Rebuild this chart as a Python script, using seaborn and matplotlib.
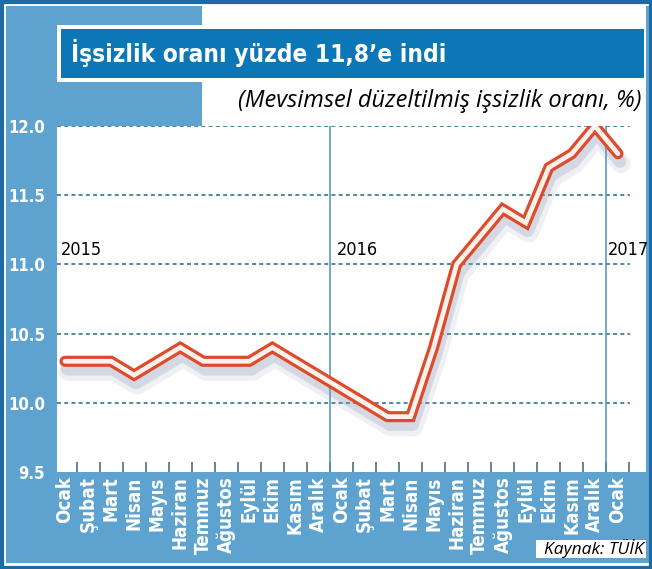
import matplotlib
matplotlib.use("Agg")
import matplotlib.pyplot as plt
import matplotlib.transforms as mtransforms
from matplotlib import font_manager as fm
from matplotlib.patches import Rectangle
import pandas as pd
import seaborn as sns

months = ["Ocak", "Şubat", "Mart", "Nisan", "Mayıs", "Haziran", "Temmuz",
          "Ağustos", "Eylül", "Ekim", "Kasım", "Aralık",
          "Ocak", "Şubat", "Mart", "Nisan", "Mayıs", "Haziran", "Temmuz",
          "Ağustos", "Eylül", "Ekim", "Kasım", "Aralık", "Ocak"]
rate = [10.3, 10.3, 10.3, 10.2, 10.3, 10.4, 10.3, 10.3, 10.3, 10.4, 10.3, 10.2,
        10.1, 10.0, 9.9, 9.9, 10.4, 11.0, 11.2, 11.4, 11.3, 11.7, 11.8, 12.0, 11.8]
years = ["2015", "2016", "2017"]
year_pos = [-0.2, 11.8, 23.55]
y_ticks = [9.5, 10.0, 10.5, 11.0, 11.5, 12.0]

LIGHT = "#5ea3cf"
DARK = "#1d6aa4"
TITLE_BG = "#0b77b6"
GRID = "#3b8299"
RED = "#de4b2c"
W, H = 652, 569


def weight_of(f):
    w = f.weight
    if isinstance(w, str):
        return 700 if "bold" in w.lower() else 400
    return w


def find_font(bold=False, narrow=True, italic=False):
    names_narrow = ["Liberation Sans Narrow", "DejaVu Sans Condensed", "Roboto Condensed",
                    "Open Sans Condensed", "Noto Sans Condensed"]
    names_plain = ["Open Sans", "Noto Sans", "Lato", "Liberation Sans", "DejaVu Sans"]
    cands = []
    for f in fm.fontManager.ttflist:
        is_bold = weight_of(f) >= 600
        is_it = f.style in ("italic", "oblique")
        if is_bold != bold or is_it != italic:
            continue
        cond = ("Narrow" in f.name or "Condensed" in f.name or
                f.stretch in ("condensed", "semi-condensed", "extra-condensed"))
        if narrow and cond:
            rank = next((i for i, n in enumerate(names_narrow) if f.name.startswith(n.split()[0])), 9)
            cands.append((rank, f.fname))
        elif not narrow and not cond and f.name in names_plain:
            cands.append((names_plain.index(f.name), f.fname))
    if cands:
        cands.sort()
        return cands[0][1]
    return None


def fprop(size, **kw):
    path = find_font(**kw)
    if path:
        return fm.FontProperties(fname=path, size=size)
    return fm.FontProperties(family="DejaVu Sans", size=size,
                             weight="bold" if kw.get("bold") else "normal",
                             style="italic" if kw.get("italic") else "normal")


sns.set_style("white")

df = pd.DataFrame({"idx": range(len(rate)), "rate": rate})

fig = plt.figure(figsize=(W / 100, H / 100), dpi=100, facecolor="white")


def frect(x0, y0, x1, y1, **kw):
    # pixel box (top-left origin) -> figure rectangle, kept under the axes
    fig.patches.append(Rectangle((x0 / W, 1 - y1 / H), (x1 - x0) / W, (y1 - y0) / H,
                                 transform=fig.transFigure, figure=fig, zorder=-5, **kw))


# background pieces
frect(6, 6, 202, 126, color=LIGHT, lw=0)
frect(6, 6, 57, 563, color=LIGHT, lw=0)
frect(6, 472, 649, 563, color=LIGHT, lw=0)
frect(646, 6, 649, 563, color=LIGHT, lw=0)
frect(57, 25, 646, 82, color="white", lw=0)
frect(61, 29, 644, 78, color=TITLE_BG, lw=0)
frect(536, 540, 646, 558, color="white", lw=0)
frect(1.5, 1.5, 650.5, 567.5, fill=False, edgecolor=DARK, lw=3)

ax = fig.add_axes([57 / W, 1 - 472 / H, (646 - 57) / W, (472 - 126) / H])
ax.set_facecolor("none")
step = 23.04
ax.set_xlim((57 - 65) / step, (646 - 65) / step)
ax.set_ylim(9.5, 12.0)
for s in ax.spines.values():
    s.set_visible(False)

x_end = (630 - 57) / (646 - 57)
for v in y_ticks[1:]:
    ax.axhline(v, xmin=0, xmax=x_end, color=GRID, lw=1.3, ls=(0, (2.2, 1.8)), zorder=1)
for xv in [11.5, 23.5]:
    ax.axvline(xv, color="#4f8fbb", lw=1.1, zorder=1)

# soft shadow under the line
for dx, dy, lw, a in [(3, -10, 14, 0.13), (2, -8, 9, 0.25)]:
    tr = mtransforms.offset_copy(ax.transData, fig=fig, x=dx, y=dy, units="dots")
    ax.plot(df["idx"], df["rate"], color="#8592b0", lw=lw, alpha=a, transform=tr,
            solid_joinstyle="round", solid_capstyle="round", zorder=2)

sns.lineplot(data=df, x="idx", y="rate", ax=ax, color=RED, lw=8,
             solid_joinstyle="miter", solid_capstyle="round", zorder=3)
sns.lineplot(data=df, x="idx", y="rate", ax=ax, color="#fff1ec", lw=3.4,
             solid_joinstyle="miter", solid_capstyle="round", zorder=4)
ax.set_xlabel("")
ax.set_ylabel("")

# ticks
tick_fp = fprop(13.5, bold=True, narrow=True)
ax.set_xticks(range(len(months)))
ax.set_xticklabels(months, rotation=90, va="top", ha="center")
ax.set_xticks([i + 0.5 for i in range(len(months))], minor=True)
ax.tick_params(axis="x", which="major", length=0, pad=3, colors="white")
ax.tick_params(axis="x", which="minor", length=7, width=1.2, direction="in",
               color="#4a6f8a", bottom=True)
for lab in ax.get_xticklabels():
    lab.set_fontproperties(tick_fp)
    lab.set_color("white")

ytick_fp = fprop(12, bold=True, narrow=True)
ax.set_yticks(y_ticks)
ax.set_yticklabels([f"{v:.1f}" for v in y_ticks])
ax.tick_params(axis="y", length=0, pad=8.5, colors="white")
for lab in ax.get_yticklabels():
    lab.set_fontproperties(ytick_fp)
    lab.set_color("white")

year_fp = fprop(13, bold=False, narrow=True)
for name, pos in zip(years, year_pos):
    ax.text(pos, 11.04, name, fontproperties=year_fp, color="black",
            ha="left", va="bottom", zorder=5)

title_fp = fprop(17.5, bold=True, narrow=True)
fig.text(71 / W, 1 - 53 / H, "İşsizlik oranı yüzde 11,8’e indi", fontproperties=title_fp,
         color="white", ha="left", va="center")

sub_fp = fprop(17, italic=True, narrow=False)
fig.text(641 / W, 1 - 101 / H, "(Mevsimsel düzeltilmiş işsizlik oranı, %)",
         fontproperties=sub_fp, color="black", ha="right", va="center")

src_fp = fprop(12.5, italic=True, narrow=False)
fig.text(644 / W, 1 - 549 / H, "Kaynak: TÜİK", fontproperties=src_fp,
         color="black", ha="right", va="center")

fig.savefig("out.png", dpi=100, facecolor=fig.get_facecolor())
